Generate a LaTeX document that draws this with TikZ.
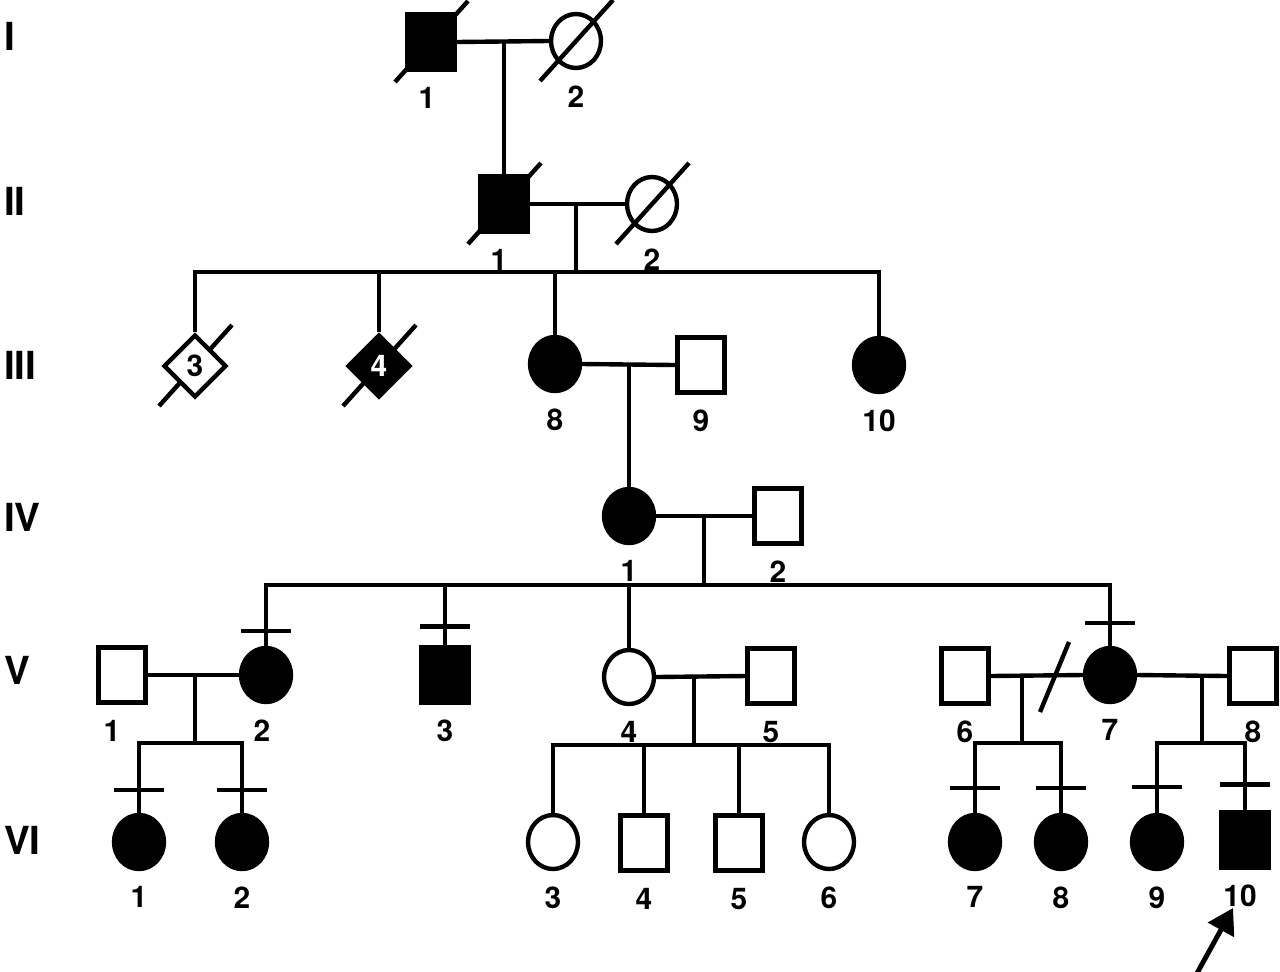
\documentclass[tikz,border=0pt]{standalone}
\usepackage{fontspec}
\setmainfont{TeX Gyre Heros}
\usetikzlibrary{shapes.geometric,arrows.meta,backgrounds}

\tikzset{
  male/.style={draw, rectangle, minimum width=0.94cm, minimum height=1.1cm, inner sep=0pt},
  female/.style={draw, ellipse, minimum width=1.0cm, minimum height=1.08cm, inner sep=0pt},
  unknown/.style={draw, diamond, fill=white, minimum width=1.26cm, minimum height=1.26cm, inner sep=0pt,
    font=\fontsize{17}{18}\selectfont\bfseries},
  affected/.style={fill=black},
  num/.style={font=\fontsize{17}{18}\selectfont\bfseries, inner sep=0pt},
  gen/.style={font=\fontsize{22}{24}\selectfont\bfseries, anchor=west, inner sep=0pt},
  slash/.style={line width=2.5pt},
  every label/.style={num},
  label distance=0.26cm
}

% slash through a deceased individual
\newcommand{\deceased}[1]{\draw[slash] ([shift={(-36,40)}]#1.center) -- ([shift={(37,-41)}]#1.center);}
% short bar across the line above an individual
\newcommand{\crossbar}[2]{\draw ([shift={(-25,-#2)}]#1.north) -- ++(50,0);}

\begin{document}
\begin{tikzpicture}[x=0.02cm, y=-0.02cm, line width=2.5pt]
      \useasboundingbox (0,0) rectangle (1280,971);
      % generations
      \node[gen] (gI) at (2,36) {I};
      \node[gen] (gII) at (2,201) {II};
      \node[gen] (gIII) at (2,365) {III};
      \node[gen] (gIV) at (2,517) {IV};
      \node[gen] (gV) at (2,670) {V};
      \node[gen] (gVI) at (2,840) {VI};
      % generation I
      \node[male, affected, label={[xshift=-0.08cm]below:1}] at (431,42) (I1) {};
      \node[female, label=below:2] at (576,41) (I2) {};
      \coordinate (mI) at (504,42);
      \draw (I1.east) -- (I2.west);
      \deceased{I1}
      \deceased{I2}
      % generation II
      \node[male, affected, label={[xshift=-0.1cm]below:1}] at (504,204) (II1) {};
      \node[female, label=below:2] at (652,204) (II2) {};
      \coordinate (mII) at (576,204);
      \coordinate (sII) at (576,272);
      \draw (mI) -- (II1);
      \draw (II1.east) -- (II2.west);
      \deceased{II1}
      \deceased{II2}
      % generation III
      \node[unknown] at (195,366) (III3) {3};
      \node[unknown, affected, text=white] at (379,366) (III4) {4};
      \node[female, affected, label=below:8] at (555,364) (III8) {};
      \node[male, label=below:9] at (701,365) (III9) {};
      \node[female, affected, label=below:10] at (879,365) (III10) {};
      \coordinate (mIII) at (629,364);
      \draw (mII) -- (sII);
      \draw (III3) |- (sII) -| (III10);
      \draw (III4) -- (III4 |- sII);
      \draw (III8) -- (III8 |- sII);
      \draw (III8.east) -- (III9.west);
      \begin{scope}[on background layer]
        \deceased{III3}
        \deceased{III4}
      \end{scope}
      % generation IV
      \node[female, affected, label=below:1] at (629,516) (IV1) {};
      \node[male, label=below:2] at (778,516) (IV2) {};
      \coordinate (mIV) at (704,516);
      \coordinate (sIV) at (704,585);
      \draw (mIII) -- (IV1);
      \draw (IV1.east) -- (IV2.west);
      % generation V
      \node[male, label={[xshift=-0.2cm]below:1}] at (122,675) (V1) {};
      \node[female, affected, label={[xshift=-0.08cm]below:2}] at (266,675) (V2) {};
      \node[male, affected, label=below:3] at (445,675) (V3) {};
      \node[female, label=below:4] at (629,677) (V4) {};
      \node[male, label=below:5] at (771,676) (V5) {};
      \node[male, label=below:6] at (965,676) (V6) {};
      \node[female, affected, label=below:7] at (1110,675) (V7) {};
      \node[male, label=below:8] at (1253,676) (V8) {};
      \draw (mIV) -- (sIV);
      \draw (V2) |- (sIV) -| (V7);
      \draw (V3) -- (V3 |- sIV);
      \draw (V4) -- (V4 |- sIV);
      \crossbar{V2}{15}
      \crossbar{V3}{19}
      \crossbar{V7}{23}
      \draw (V1.east) -- (V2.west);
      \draw (V4.east) -- (V5.west);
      \draw (V6.east) -- (V7.west);
      \draw (V7.east) -- (V8.west);
      \draw (1040,712) -- (1069,642);
      \coordinate (mV1) at (195,675);
      \coordinate (sV1) at (195,743);
      \coordinate (mV4) at (694,676);
      \coordinate (sV4) at (694,745);
      \coordinate (mV6) at (1022,676);
      \coordinate (sV6) at (1022,743);
      \coordinate (mV7) at (1202,676);
      \coordinate (sV7) at (1202,743);
      % generation VI
      \node[female, affected, label=below:1] at (139,842) (VI1) {};
      \node[female, affected, label=below:2] at (242,842) (VI2) {};
      \node[female, label=below:3] at (553,842) (VI3) {};
      \node[male, label=below:4] at (644,843) (VI4) {};
      \node[male, label=below:5] at (739,843) (VI5) {};
      \node[female, label=below:6] at (829,842) (VI6) {};
      \node[female, affected, label=below:7] at (975,842) (VI7) {};
      \node[female, affected, label=below:8] at (1061,842) (VI8) {};
      \node[female, affected, label=below:9] at (1157,842) (VI9) {};
      \node[male, affected, label={[xshift=-0.1cm]below:10}] at (1245,840) (VI10) {};
      \draw (mV1) -- (sV1);
      \draw (VI1) |- (sV1) -| (VI2);
      \draw (mV4) -- (sV4);
      \draw (VI3) |- (sV4) -| (VI6);
      \draw (VI4) -- (VI4 |- sV4);
      \draw (VI5) -- (VI5 |- sV4);
      \draw (mV6) -- (sV6);
      \draw (VI7) |- (sV6) -| (VI8);
      \draw (mV7) -- (sV7);
      \draw (VI9) |- (sV7) -| (VI10);
      \crossbar{VI1}{23}
      \crossbar{VI2}{23}
      \crossbar{VI7}{25}
      \crossbar{VI8}{25}
      \crossbar{VI9}{26}
      \crossbar{VI10}{26}
      % proband
      \coordinate (ptail) at (1196,975);
      \coordinate (ptip) at (1233,908);
      \draw[-{Triangle[length=0.5cm,width=0.58cm]}, line width=2.8pt] (ptail) -- (ptip);
\end{tikzpicture}
\end{document}
